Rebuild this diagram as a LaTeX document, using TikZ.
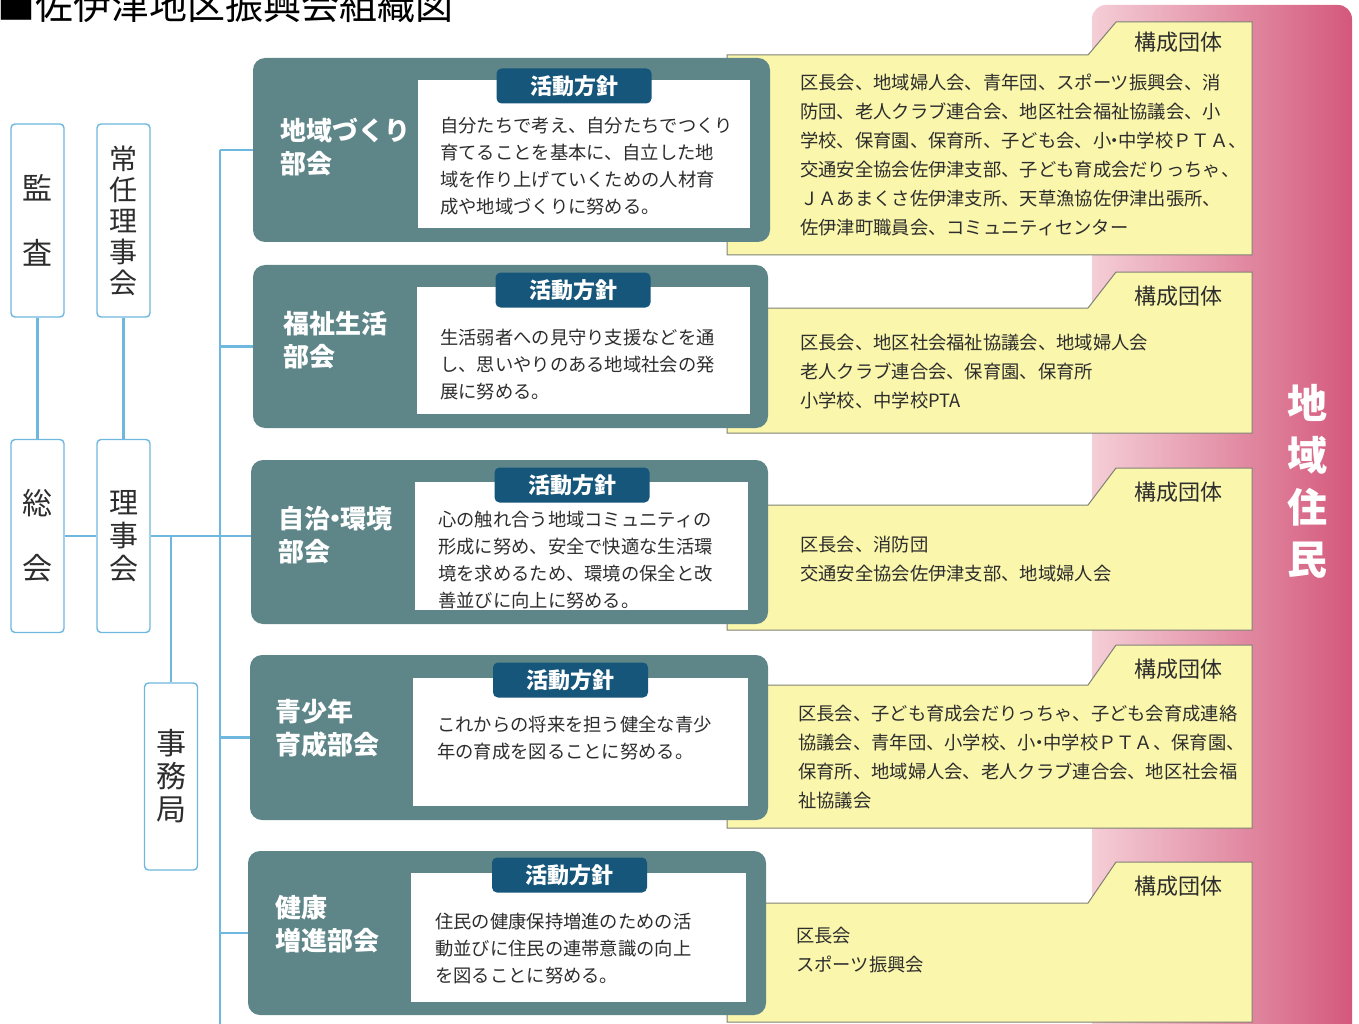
\documentclass[tikz,border=0pt]{standalone}
\usepackage{fontspec}
\setmainfont{Noto Sans CJK JP}
\usepackage{tikz}

\definecolor{linkblue}{RGB}{110,183,222}
\definecolor{panelteal}{RGB}{94,134,137}
\definecolor{badgeblue}{RGB}{22,86,122}
\definecolor{memberfill}{RGB}{250,246,172}
\definecolor{memberline}{RGB}{128,128,118}
\definecolor{pinkL}{RGB}{244,206,214}
\definecolor{pinkR}{RGB}{212,88,124}
\definecolor{inktext}{RGB}{45,45,45}

\newcommand\fs[2]{\fontsize{#1}{#2}\selectfont}
\newcommand\ndot{{\kern-0.3em}・{\kern-0.3em}}

\begin{document}
\begin{tikzpicture}[x=1pt,y=-1pt,
  lbox/.style={draw=linkblue,fill=white,line width=1.4pt,rounded corners=4pt,
    minimum width=53pt,inner sep=0pt,align=center,text=inktext},
  conn/.style={draw=linkblue,line width=2.2pt},
  panel/.style={fill=panelteal,rounded corners=12pt,inner sep=0pt,outer sep=0pt},
  badge/.style={fill=badgeblue,rounded corners=5pt,text=white,minimum width=155pt,
    minimum height=35pt,inner sep=0pt,font=\fs{22}{26}\bfseries},
  plabel/.style={anchor=north west,inner sep=0pt,align=left,text=white,font=\fs{26}{33}\bfseries},
  policy/.style={anchor=north west,inner sep=0pt,align=left,text=inktext,font=\fs{18.3}{27}},
  members/.style={anchor=north west,inner sep=0pt,align=left,text=inktext,font=\fs{18.3}{29}},
  memberbox/.style={fill=memberfill,draw=memberline,line width=1pt},
  tabtitle/.style={inner sep=0pt,text=inktext,font=\fs{22}{26}}]

\useasboundingbox (0,0) rectangle (1359,1024);

% title
\node[anchor=base west,inner sep=0pt,font=\fs{38}{40}] (title) at (-3,20) {■佐伊津地区振興会組織図};

% residents band
\shade[left color=pinkL,right color=pinkR,rounded corners=14pt] (1092,5) rectangle (1352,1040);
\node[align=center,text=white,font=\fs{40}{52}\bfseries] (jumin) at (1307,481) {地\\域\\住\\民};

% member boxes
\foreach \yt/\ym/\yb in {22/55/255, 272/308/433, 468/505/630, 645/685/828, 862/903/1022}
  \draw[memberbox] (727,\yb) -- (727,\ym) -- (1088,\ym) -- (1116,\yt) -- (1252,\yt) -- (1252,\yb) -- cycle;
\node[tabtitle] (t1) at (1178,42) {構成団体};
\node[tabtitle] (t2) at (1178,296) {構成団体};
\node[tabtitle] (t3) at (1178,492) {構成団体};
\node[tabtitle] (t4) at (1178,669) {構成団体};
\node[tabtitle] (t5) at (1178,886) {構成団体};

\node[members] (m1) at (800,74) {区長会、地域婦人会、青年団、スポーツ振興会、消\\防団、老人クラブ連合会、地区社会福祉協議会、小\\学校、保育園、保育所、子ども会、小\ndot 中学校ＰＴＡ、\\交通安全協会佐伊津支部、子ども育成会だりっちゃ、\\ＪＡあまくさ佐伊津支所、天草漁協佐伊津出張所、\\佐伊津町職員会、コミュニティセンター};
\node[members] (m2) at (800,334) {区長会、地区社会福祉協議会、地域婦人会\\老人クラブ連合会、保育園、保育所\\小学校、中学校PTA};
\node[members] (m3) at (800,536) {区長会、消防団\\交通安全協会佐伊津支部、地域婦人会};
\node[members] (m4) at (798,705) {区長会、子ども育成会だりっちゃ、子ども会育成連絡\\協議会、青年団、小学校、小\ndot 中学校ＰＴＡ、保育園、\\保育所、地域婦人会、老人クラブ連合会、地区社会福\\祉協議会};
\node[members] (m5) at (796,927) {区長会\\スポーツ振興会};

% committees
\node[panel,minimum width=517pt,minimum height=184pt] (p1) at (511.5,150) {};
\node[panel,minimum width=515pt,minimum height=163pt] (p2) at (510.5,346.5) {};
\node[panel,minimum width=517pt,minimum height=164pt] (p3) at (509.5,542) {};
\node[panel,minimum width=518pt,minimum height=165pt] (p4) at (509,737.5) {};
\node[panel,minimum width=518pt,minimum height=164pt] (p5) at (507,933) {};

\fill[white] (418,80) rectangle (750,228);
\fill[white] (417,287) rectangle (750,414);
\fill[white] (415,482) rectangle (748,610);
\fill[white] (413,678) rectangle (748,806);
\fill[white] (411,873) rectangle (746,1002);

\node[badge] (b1) at (574,86) {活動方針};
\node[badge] (b2) at (573,290) {活動方針};
\node[badge] (b3) at (572,485) {活動方針};
\node[badge] (b4) at (570.5,680) {活動方針};
\node[badge] (b5) at (569.5,875) {活動方針};

\node[plabel] (l1) at (280,118) {地域づくり\\部会};
\node[plabel] (l2) at (283,311) {福祉生活\\部会};
\node[plabel] (l3) at (278,506) {自治\ndot 環境\\部会};
\node[plabel] (l4) at (275,699) {青少年\\育成部会};
\node[plabel] (l5) at (275,895) {健康\\増進部会};

\node[policy] (a1) at (440,117) {自分たちで考え、自分たちでつくり\\育てることを基本に、自立した地\\域を作り上げていくための人材育\\成や地域づくりに努める。};
\node[policy] (a2) at (440,329) {生活弱者への見守り支援などを通\\し、思いやりのある地域社会の発\\展に努める。};
\node[policy] (a3) at (438,511) {心の触れ合う地域コミュニティの\\形成に努め、安全で快適な生活環\\境を求めるため、環境の保全と改\\善並びに向上に努める。};
\node[policy] (a4) at (437,716) {これからの将来を担う健全な青少\\年の育成を図ることに努める。};
\node[policy] (a5) at (435,913) {住民の健康保持増進のための活\\動並びに住民の連帯意識の向上\\を図ることに努める。};

% council boxes
\node[lbox,minimum height=193pt,font=\fs{30}{65}] (kansa) at (37.5,220.5) {監\\査};
\node[lbox,minimum height=193pt,font=\fs{28}{31}] (jonin) at (123.5,220.5) {常\\任\\理\\事\\会};
\node[lbox,minimum height=193pt,font=\fs{30}{65}] (sokai) at (37.5,536) {総\\会};
\node[lbox,minimum height=193pt,font=\fs{29}{33}] (riji) at (123.5,536) {理\\事\\会};
\node[lbox,minimum height=187pt,font=\fs{30}{33}] (jimu) at (171,776.5) {事\\務\\局};

\coordinate (busT) at (220,150);
\coordinate (busB) at (220,1024);

\draw[conn] (kansa) -- (sokai);
\draw[conn] (jonin) -- (riji);
\draw[conn] (sokai) -- (riji);
\draw[conn] (riji.east) -- (riji.east -| p3.west);
\draw[conn] (jimu.north) -- (jimu.north |- riji.east);
\draw[conn] (busT) -- (busB);
\draw[conn] (p1.west -| busT) -- (p1.west);
\draw[conn] (p2.west -| busT) -- (p2.west);
\draw[conn] (p4.west -| busT) -- (p4.west);
\draw[conn] (p5.west -| busT) -- (p5.west);
\end{tikzpicture}
\end{document}
